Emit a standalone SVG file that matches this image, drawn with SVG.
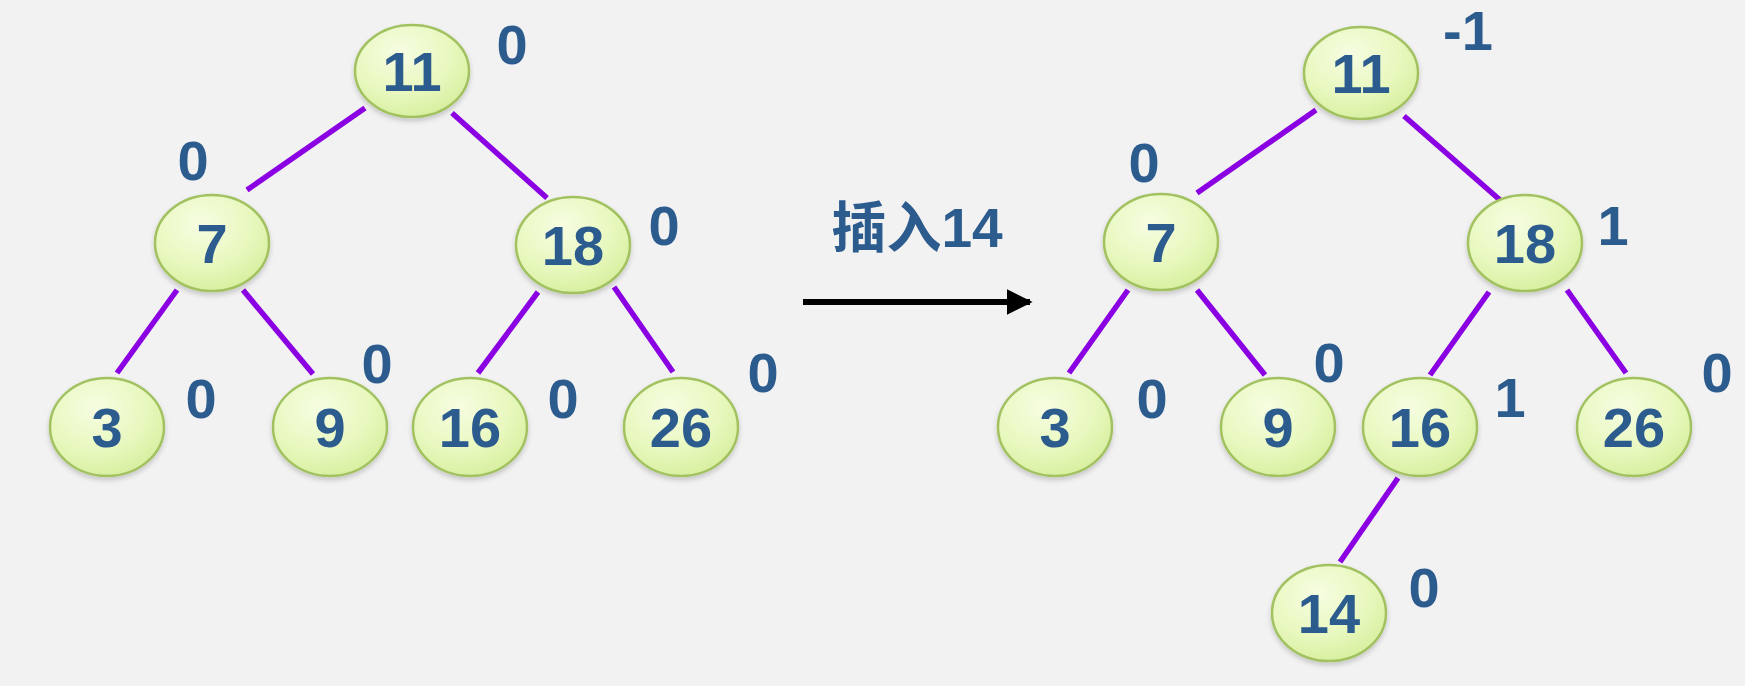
<svg xmlns="http://www.w3.org/2000/svg" width="1745" height="686" viewBox="0 0 1745 686">
  <defs>
    <radialGradient id="nodeFill" cx="0.4" cy="0.3" r="0.75">
      <stop offset="0" stop-color="#F6FDE2"/>
      <stop offset="0.6" stop-color="#E8F8BE"/>
      <stop offset="1" stop-color="#D6EE9C"/>
    </radialGradient>
    <filter id="shadow" x="-20%" y="-20%" width="140%" height="150%">
      <feDropShadow dx="0" dy="3" stdDeviation="2.5" flood-color="#000" flood-opacity="0.18"/>
    </filter>
    <marker id="arrowHead" viewBox="0 0 10 10" refX="9" refY="5" markerWidth="4.3" markerHeight="4.3" orient="auto" markerUnits="strokeWidth">
      <path d="M0,0 L10,5 L0,10 z" fill="#000"/>
    </marker>
  </defs>
  <style>
    .node ellipse { fill: url(#nodeFill); stroke: #A2C262; stroke-width: 2.5; filter: url(#shadow); }
    .node text { font-family: "Liberation Sans", Arial, sans-serif; font-weight: bold; font-size: 56px; fill: #2C5B8E; text-anchor: middle; }
    .bf { font-family: "Liberation Sans", Arial, sans-serif; font-weight: bold; font-size: 56px; fill: #2C5B8E; text-anchor: middle; }
    .edge { stroke: #8A00E2; stroke-width: 5.5; stroke-linecap: butt; }
    .title { font-family: "Liberation Sans", "Noto Sans CJK SC", sans-serif; font-weight: bold; font-size: 55px; fill: #2C5B8E; text-anchor: middle; }
  </style>
  <rect width="1745" height="686" fill="#F2F2F2"/>

  <g id="connectors">
    <line class="edge" x1="365" y1="108" x2="247" y2="190"/>
    <line class="edge" x1="452" y1="113" x2="547" y2="198"/>
    <line class="edge" x1="177" y1="290" x2="117" y2="373"/>
    <line class="edge" x1="243" y1="290" x2="313" y2="374"/>
    <line class="edge" x1="538" y1="292" x2="478" y2="373"/>
    <line class="edge" x1="614" y1="287" x2="673" y2="372"/>

    <line class="edge" x1="1316" y1="110" x2="1197" y2="193"/>
    <line class="edge" x1="1404" y1="116" x2="1500" y2="200"/>
    <line class="edge" x1="1128" y1="290" x2="1069" y2="373"/>
    <line class="edge" x1="1197" y1="290" x2="1265" y2="375"/>
    <line class="edge" x1="1489" y1="292" x2="1430" y2="375"/>
    <line class="edge" x1="1567" y1="290" x2="1626" y2="373"/>
    <line class="edge" x1="1398" y1="478" x2="1340" y2="562"/>

    <line x1="803" y1="302" x2="1030" y2="302" stroke="#000" stroke-width="6" marker-end="url(#arrowHead)"/>
  </g>

  <text class="title" x="917" y="247">插入14</text>

  <!-- left tree -->
  <g id="L11" class="node"><ellipse cx="412" cy="71" rx="57" ry="46"/><text x="412" y="91">11</text></g>
  <g id="L7" class="node"><ellipse cx="212" cy="243" rx="57" ry="48"/><text x="212" y="263">7</text></g>
  <g id="L18" class="node"><ellipse cx="573" cy="245" rx="57" ry="48"/><text x="573" y="265">18</text></g>
  <g id="L3" class="node"><ellipse cx="107" cy="427" rx="57" ry="49"/><text x="107" y="447">3</text></g>
  <g id="L9" class="node"><ellipse cx="330" cy="427" rx="57" ry="49"/><text x="330" y="447">9</text></g>
  <g id="L16" class="node"><ellipse cx="470" cy="427" rx="57" ry="49"/><text x="470" y="447">16</text></g>
  <g id="L26" class="node"><ellipse cx="681" cy="427" rx="57" ry="49"/><text x="681" y="447">26</text></g>

  <g id="left-balance">
    <text class="bf" x="512" y="64">0</text>
    <text class="bf" x="193" y="180">0</text>
    <text class="bf" x="664" y="245">0</text>
    <text class="bf" x="201" y="418">0</text>
    <text class="bf" x="377" y="383">0</text>
    <text class="bf" x="563" y="418">0</text>
    <text class="bf" x="763" y="392">0</text>
  </g>

  <!-- right tree -->
  <g id="R11" class="node"><ellipse cx="1361" cy="73" rx="57" ry="46"/><text x="1361" y="93">11</text></g>
  <g id="R7" class="node"><ellipse cx="1161" cy="242" rx="57" ry="48"/><text x="1161" y="262">7</text></g>
  <g id="R18" class="node"><ellipse cx="1525" cy="243" rx="57" ry="48"/><text x="1525" y="263">18</text></g>
  <g id="R3" class="node"><ellipse cx="1055" cy="427" rx="57" ry="49"/><text x="1055" y="447">3</text></g>
  <g id="R9" class="node"><ellipse cx="1278" cy="427" rx="57" ry="49"/><text x="1278" y="447">9</text></g>
  <g id="R16" class="node"><ellipse cx="1420" cy="427" rx="57" ry="49"/><text x="1420" y="447">16</text></g>
  <g id="R26" class="node"><ellipse cx="1634" cy="427" rx="57" ry="49"/><text x="1634" y="447">26</text></g>
  <g id="R14" class="node"><ellipse cx="1329" cy="613" rx="57" ry="48"/><text x="1329" y="633">14</text></g>

  <g id="right-balance">
    <text class="bf" x="1468" y="50">-1</text>
    <text class="bf" x="1144" y="182">0</text>
    <text class="bf" x="1613" y="245">1</text>
    <text class="bf" x="1152" y="418">0</text>
    <text class="bf" x="1329" y="382">0</text>
    <text class="bf" x="1510" y="417">1</text>
    <text class="bf" x="1717" y="392">0</text>
    <text class="bf" x="1424" y="607">0</text>
  </g>
</svg>
